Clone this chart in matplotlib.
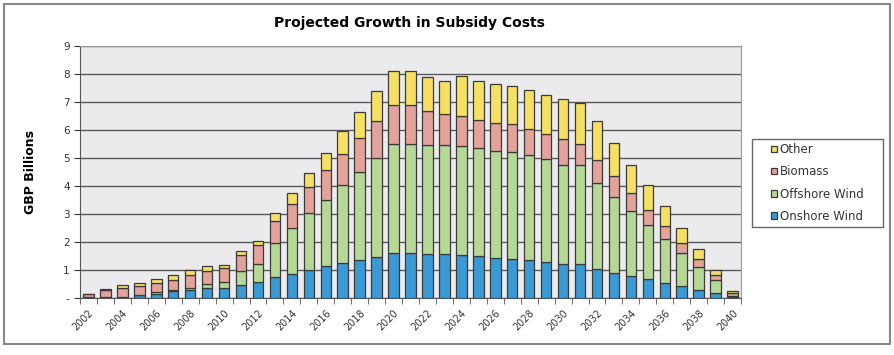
import numpy as np
import matplotlib.pyplot as plt
from matplotlib.patches import Rectangle
from matplotlib.ticker import FixedLocator

years = list(range(2002, 2041))

onshore = [0.02, 0.03, 0.05, 0.10, 0.15, 0.24, 0.30, 0.37, 0.36, 0.45,
           0.57, 0.75, 0.87, 1.01, 1.13, 1.25, 1.37, 1.46, 1.61, 1.61,
           1.56, 1.56, 1.54, 1.49, 1.44, 1.40, 1.35, 1.29, 1.23, 1.20,
           1.05, 0.90, 0.80, 0.69, 0.55, 0.42, 0.30, 0.18, 0.03]
offshore = [0.00, 0.00, 0.00, 0.00, 0.05, 0.03, 0.06, 0.14, 0.21, 0.50,
            0.63, 1.23, 1.64, 2.03, 2.38, 2.77, 3.13, 3.54, 3.90, 3.90,
            3.92, 3.89, 3.88, 3.87, 3.83, 3.81, 3.75, 3.66, 3.54, 3.54,
            3.06, 2.71, 2.30, 1.91, 1.57, 1.20, 0.81, 0.45, 0.05]
biomass = [0.11, 0.25, 0.30, 0.32, 0.35, 0.38, 0.47, 0.45, 0.51, 0.57,
           0.68, 0.77, 0.86, 0.92, 1.05, 1.11, 1.23, 1.32, 1.39, 1.39,
           1.22, 1.13, 1.07, 0.99, 0.98, 0.99, 0.95, 0.92, 0.92, 0.77,
           0.81, 0.74, 0.65, 0.55, 0.44, 0.36, 0.29, 0.18, 0.10]
other = [0.02, 0.05, 0.10, 0.13, 0.14, 0.16, 0.16, 0.18, 0.09, 0.16,
         0.16, 0.29, 0.38, 0.52, 0.63, 0.82, 0.91, 1.06, 1.20, 1.20,
         1.18, 1.16, 1.44, 1.39, 1.40, 1.37, 1.39, 1.39, 1.43, 1.47,
         1.39, 1.19, 1.01, 0.87, 0.71, 0.53, 0.36, 0.18, 0.06]

y_ticks = list(range(10))
y_labels = ["-"] + [str(i) for i in range(1, 10)]

series = [("Onshore Wind", onshore, "#3a9ad6"),
          ("Offshore Wind", offshore, "#b6d897"),
          ("Biomass", biomass, "#e3a39a"),
          ("Other", other, "#f6e064")]

fig = plt.figure(figsize=(8.95, 3.55), dpi=100)
ax = fig.add_axes([0.0894, 0.1606, 0.7386, 0.7094])

x = np.arange(len(years))
bottom = np.zeros(len(years))
handles = []
for name, vals, col in series:
    b = ax.bar(x, vals, width=0.62, bottom=bottom, color=col,
               edgecolor="#3a3a3a", linewidth=0.9, zorder=3, label=name)
    handles.append(b)
    bottom += np.array(vals)

ax.set_facecolor("#ebebed")
ax.set_xlim(-0.5, len(years) - 0.5)
ax.set_ylim(0, 9)
ax.set_yticks(y_ticks)
ax.set_yticklabels(y_labels)
ax.grid(axis="y", color="#5a5a5a", linewidth=1.0, zorder=1)
for s in ax.spines.values():
    s.set_color("#9a9a9a")
ax.spines["left"].set_color("#555555")
ax.spines["bottom"].set_color("#555555")

ax.set_xticks(x[::2])
ax.set_xticklabels([str(y) for y in years[::2]], rotation=45, fontsize=7,
                   color="#333333")
ax.xaxis.set_minor_locator(FixedLocator(np.arange(-0.5, len(years), 1)))
ax.tick_params(axis="x", which="major", length=0, pad=7)
ax.tick_params(axis="x", which="minor", length=4, color="#555555")
ax.tick_params(axis="y", length=4, labelsize=7.5, colors="#333333")
for lbl in ax.get_xticklabels():
    lbl.set_ha("right")
    lbl.set_rotation_mode("anchor")

ax.set_ylabel("GBP Billions", fontsize=9, fontweight="bold", labelpad=19)
fig.text(0.458, 0.935, "Projected Growth in Subsidy Costs", ha="center",
         va="center", fontsize=10, fontweight="bold")

# legend, frame drawn separately to get the wide side padding
leg = fig.legend(handles[::-1], [s[0] for s in series][::-1],
                 loc="center", bbox_to_anchor=(0.9134, 0.4845),
                 fontsize=8.5, frameon=False,
                 handlelength=0.45, handleheight=0.45, handletextpad=0.25,
                 labelspacing=0.78, borderpad=0, borderaxespad=0)
for t in leg.get_texts():
    t.set_color("#333333")
fig.patches.append(Rectangle((0.8402, 0.3606), 0.1464, 0.2479,
                             transform=fig.transFigure, fill=False,
                             edgecolor="#666666", linewidth=1.0))

# outer chart border
fig.patches.append(Rectangle((0.004, 0.03), 0.99, 0.96, transform=fig.transFigure,
                             fill=False, edgecolor="#888888", linewidth=1.5))

fig.savefig("out.png", dpi=100)
